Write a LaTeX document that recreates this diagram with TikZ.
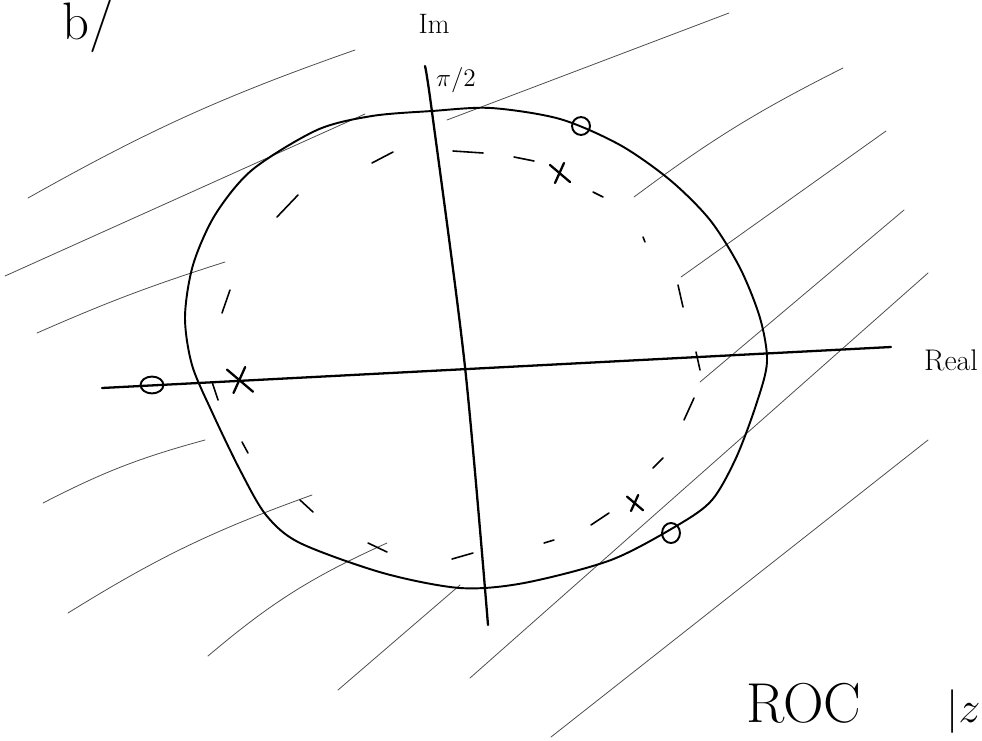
\documentclass[tikz,border=0pt]{standalone}
\usepackage{amsmath,amssymb}
\usepackage{fontspec}
\usepackage{xcolor}
\usepackage{tikz}
\usetikzlibrary{calc}

\tikzset{
  rim/.style={line width=1.1pt, line cap=round},
  axisline/.style={line width=1.3pt, line cap=round},
  hatch/.style={line width=0.45pt, black!70, line cap=round},
  dashbit/.style={line width=0.9pt, line cap=round},
  polemark/.style={line width=1.3pt, line cap=round},
  zeromark/.style={line width=1.1pt}
}

\begin{document}
\begin{tikzpicture}[x=0.02cm,y=-0.02cm]
\useasboundingbox (0,0) rectangle (982,740);

% hatching of the region outside
\draw[hatch] (28,198) to[bend left=5] (355,50);
\draw[hatch] (5,276) -- (365,114);
\draw[hatch] (37,333) to[bend left=3] (225,262);
\draw[hatch] (447,120) -- (729,13);
\draw[hatch] (634,197) to[bend left=5] (843,68);
\draw[hatch] (681,277) -- (886,131);
\draw[hatch] (700,382) -- (904,210);
\draw[hatch] (470,678) -- (928,273);
\draw[hatch] (551,737) -- (928,440);
\draw[hatch] (43,503) to[bend left=6] (205,440);
\draw[hatch] (68,613) to[bend left=6] (312,495);
\draw[hatch] (208,656) to[bend left=8] (387,543);
\draw[hatch] (338,690) -- (460,585);

% outer contour
\draw[rim] plot[smooth cycle] coordinates {
  (432,111) (491,108) (560,119) (620,145) (670,180) (710,220) (740,268)
  (760,318) (767,362) (756,405) (736,458) (712,500) (678,525) (611,560)
  (524,583) (460,588) (383,573) (300,543) (266,515) (240,470) (212,412)
  (192,365) (185,317) (193,265) (215,215) (252,170) (317,130) (372,116)};

% dashed inner contour
\foreach \xa/\ya/\xb/\yb in {372/163/393/152, 453/151/483/153, 514/157/534/161,
    593/192/603/197, 643/237/645/242, 678/285/683/307, 696/352/700/370,
    694/398/684/420, 663/458/653/468, 609/513/591/525, 554/540/544/543,
    473/553/452/559, 387/552/368/543, 313/512/300/500, 248/453/242/442,
    218/400/212/382, 230/290/222/313, 298/195/277/217}
  \draw[dashbit] (\xa,\ya) -- (\xb,\yb);

% axes
\coordinate (re-l) at (102,388);
\coordinate (re-r) at (891,347);
\draw[axisline] (re-l) -- (re-r);
\draw[axisline] plot[smooth] coordinates {(425,66) (432,112) (465,367) (488,625)};

% poles
\foreach \px/\py/\s in {560/173/10, 240/380/13, 635/503/8}
  \draw[polemark] (\px-\s,\py-0.8*\s) -- (\px+\s,\py+0.9*\s)
                  (\px+0.4*\s,\py-\s) -- (\px-0.5*\s,\py+\s);

% zeros
\foreach \zx/\zy/\rx/\ry in {581/126/5.1pt/5.1pt, 152/385/6.5pt/4.8pt, 671/533/5.1pt/5.7pt}
  \draw[zeromark] (\zx,\zy) ellipse [x radius=\rx, y radius=\ry];

% labels
\node[anchor=base west,inner sep=0pt] (lbl-b) at (62,40) {\fontsize{30}{32}\selectfont b/};
\node[inner sep=1pt] (lbl-im) at (434,24) {\fontsize{16}{18}\selectfont Im};
\node (lbl-pi) at (456,80) {\fontsize{14}{16}\selectfont $\pi/2$};
\node (lbl-real) at (951,360) {\fontsize{17}{19}\selectfont Real};
\node[anchor=base,inner sep=0pt] (lbl-roc) at (804,722) {\fontsize{32}{34}\selectfont ROC};
\node[anchor=base west,inner sep=0pt] (lbl-z) at (946,722) {\fontsize{32}{34}\selectfont $|z$};
\end{tikzpicture}
\end{document}
